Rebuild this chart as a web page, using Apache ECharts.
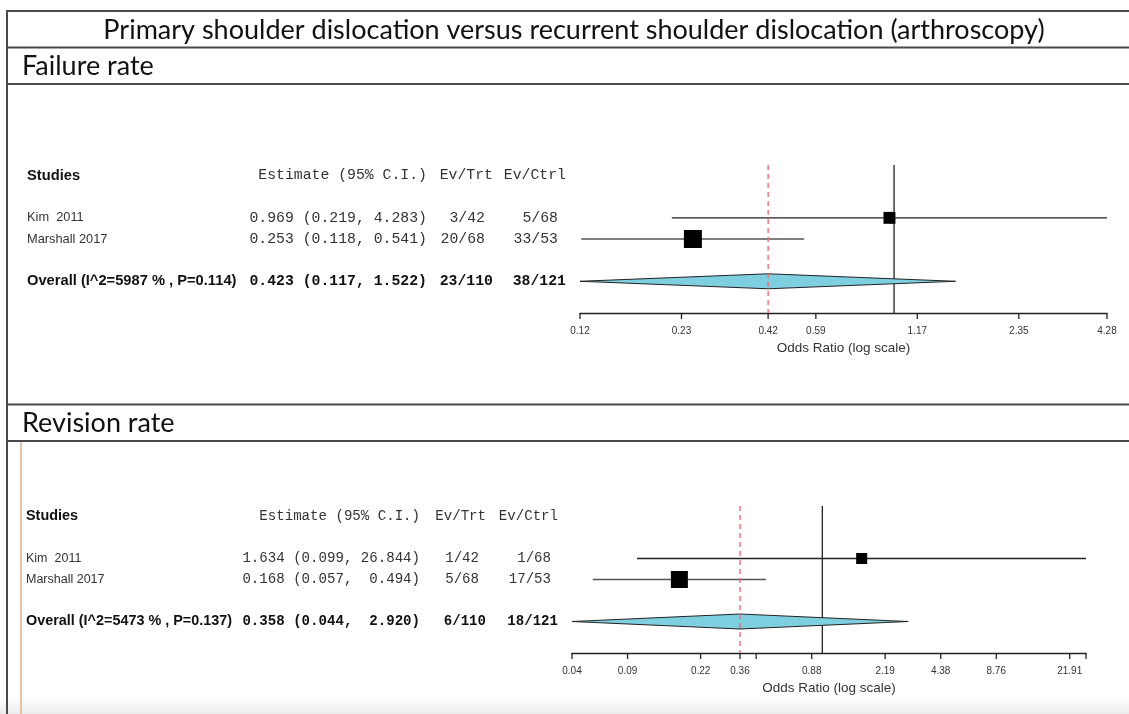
<!DOCTYPE html>
<html><head><meta charset="utf-8">
<script src="https://cdn.jsdelivr.net/npm/echarts@6/dist/echarts.min.js"></script>
<style>html,body{margin:0;padding:0;background:#fff}#c{width:1129px;height:714px}</style>
</head><body><div id="c"></div>
<script>
// ---------- data ----------
const mainTitle = 'Primary shoulder dislocation versus recurrent shoulder dislocation (arthroscopy)';
const panelTitles = ['Failure rate', 'Revision rate'];
const studies = ['Kim  2011', 'Marshall 2017'];
const colHeaders = ['Studies', 'Estimate (95% C.I.)', 'Ev/Trt', 'Ev/Ctrl'];
const axisName = 'Odds Ratio (log scale)';

// Failure rate
const failEst = [0.969, 0.253];
const failLo = [0.219, 0.118];
const failHi = [4.283, 0.541];
const failWeight = [0.44, 1.0];
const failEvTrt = ['3/42', '20/68'];
const failEvCtrl = ['5/68', '33/53'];
const failEstText = ['0.969 (0.219, 4.283)', '0.253 (0.118, 0.541)'];
const failOverall = [0.423, 0.117, 1.522];
const failOverallLabel = 'Overall (I^2=5987 % , P=0.114)';
const failOverallText = ['0.423 (0.117, 1.522)', '23/110', '38/121'];
const failTicks = [0.117, 0.234, 0.423, 0.586, 1.172, 2.345, 4.283];
const failTickLabels = ['0.12', '0.23', '0.42', '0.59', '1.17', '2.35', '4.28'];

// Revision rate
const revEst = [1.634, 0.168];
const revLo = [0.099, 0.057];
const revHi = [26.844, 0.494];
const revWeight = [0.42, 1.0];
const revEvTrt = ['1/42', '5/68'];
const revEvCtrl = ['1/68', '17/53'];
const revEstText = ['1.634 (0.099, 26.844)', '0.168 (0.057,  0.494)'];
const revOverall = [0.358, 0.044, 2.920];
const revOverallLabel = 'Overall (I^2=5473 % , P=0.137)';
const revOverallText = ['0.358 (0.044,  2.920)', '6/110', '18/121'];
const revTicks = [0.044, 0.088, 0.219, 0.358, 0.438, 0.876, 2.19, 4.38, 8.76, 21.91, 26.844];
const revTickLabels = ['0.04', '0.09', '0.22', '0.36', '', '0.88', '2.19', '4.38', '8.76', '21.91', ''];

// ---------- layout ----------
const SANS = '"Liberation Sans", Arial, sans-serif';
const MONO = '"Liberation Mono", "Courier New", monospace';
const TITLEF = 'Lato, "Open Sans", sans-serif';
const ROW_HEADER = 0, ROW_STUDY0 = 2, ROW_OVERALL = 5;

const panels = [
  { est: failEst, lo: failLo, hi: failHi, w: failWeight, trt: failEvTrt, ctrl: failEvCtrl, estText: failEstText,
    ov: failOverall, ovLabel: failOverallLabel, ovText: failOverallText, ticks: failTicks, tickLabels: failTickLabels,
    grid: { left: 580, top: 165, width: 527, height: 148 }, maxSq: 18,
    font: { sans: 12.8, sansB: 14.7, mono: 14.8 },
    col: { name: 27, estRight: 427, trtRight: 493, ctrlRight: 566, shift: 8 } },
  { est: revEst, lo: revLo, hi: revHi, w: revWeight, trt: revEvTrt, ctrl: revEvCtrl, estText: revEstText,
    ov: revOverall, ovLabel: revOverallLabel, ovText: revOverallText, ticks: revTicks, tickLabels: revTickLabels,
    grid: { left: 572, top: 506, width: 514, height: 147 }, maxSq: 17,
    font: { sans: 12.5, sansB: 14.4, mono: 14.1 },
    col: { name: 26, estRight: 420, trtRight: 486, ctrlRight: 558, shift: 7 } }
];

const chart = echarts.init(document.getElementById('c'), null, { renderer: 'canvas' });

const grids = [], xAxes = [], yAxes = [], series = [];
panels.forEach((p, pi) => {
  const xmin = Math.min(...p.ticks), xmax = Math.max(...p.ticks);
  grids.push(Object.assign({ containLabel: false }, p.grid));
  xAxes.push({
    type: 'log', logBase: 10, gridIndex: pi, min: xmin, max: xmax,
    axisLine: { show: true, onZero: false, lineStyle: { color: '#222', width: 1.4 } },
    axisTick: { show: false }, axisLabel: { show: false }, splitLine: { show: false },
    name: axisName, nameLocation: 'middle', nameGap: 28,
    nameTextStyle: { fontFamily: SANS, fontSize: 13.5, color: '#333' }
  });
  yAxes.push({ type: 'value', gridIndex: pi, min: -0.5, max: 6.5, inverse: true, show: false });

  // vertical line of no effect (OR = 1)
  series.push({
    type: 'custom', xAxisIndex: pi, yAxisIndex: pi, silent: true, clip: false, z: 2,
    data: [[1, -0.5]],
    renderItem: (params, api) => {
      const a = api.coord([api.value(0), -0.5]), b = api.coord([api.value(0), 6.5]);
      return { type: 'line', shape: { x1: a[0], y1: a[1], x2: b[0], y2: b[1] }, style: { stroke: '#222', lineWidth: 1.3 } };
    }
  });
  // dashed line at overall estimate
  series.push({
    type: 'custom', xAxisIndex: pi, yAxisIndex: pi, silent: true, clip: false, z: 4,
    data: [[p.ov[0], -0.5]],
    renderItem: (params, api) => {
      const a = api.coord([api.value(0), -0.5]), b = api.coord([api.value(0), 6.5]);
      return { type: 'line', shape: { x1: a[0], y1: a[1], x2: b[0], y2: b[1] }, style: { stroke: '#f0626a', lineWidth: 1.3, lineDash: [5, 4] } };
    }
  });
  // study CIs and squares
  series.push({
    type: 'custom', xAxisIndex: pi, yAxisIndex: pi, silent: true, clip: false, z: 3,
    encode: { x: [0, 1, 2], y: 3 },
    data: p.est.map((e, i) => [p.lo[i], p.hi[i], e, ROW_STUDY0 + i, p.w[i]]),
    renderItem: (params, api) => {
      const y = api.value(3);
      const lo = api.coord([api.value(0), y]), hi = api.coord([api.value(1), y]), c = api.coord([api.value(2), y]);
      const s = p.maxSq * Math.sqrt(api.value(4));
      return { type: 'group', children: [
        { type: 'line', shape: { x1: lo[0], y1: lo[1], x2: hi[0], y2: hi[1] }, style: { stroke: params.dataIndex === 0 ? '#222' : '#555', lineWidth: 1.3 } },
        { type: 'rect', shape: { x: c[0] - s / 2, y: c[1] - s / 2, width: s, height: s }, style: { fill: '#000' } }
      ] };
    }
  });
  // overall diamond
  series.push({
    type: 'custom', xAxisIndex: pi, yAxisIndex: pi, silent: true, clip: false, z: 3,
    encode: { x: [0, 1, 2], y: 3 },
    data: [[p.ov[1], p.ov[0], p.ov[2], ROW_OVERALL]],
    renderItem: (params, api) => {
      const y = api.value(3);
      const lo = api.coord([api.value(0), y]), c = api.coord([api.value(1), y]), hi = api.coord([api.value(2), y]);
      const h = 7.5;
      return { type: 'polygon', shape: { points: [[lo[0], lo[1]], [c[0], c[1] - h], [hi[0], hi[1]], [c[0], c[1] + h]] },
        style: { fill: '#7ecfe0', stroke: '#222', lineWidth: 1 } };
    }
  });
  // custom axis ticks + labels
  series.push({
    type: 'custom', xAxisIndex: pi, yAxisIndex: pi, silent: true, clip: false, z: 5,
    data: p.ticks.map(t => [t, 6.5]),
    renderItem: (params, api) => {
      const a = api.coord([api.value(0), 6.5]);
      const lab = p.tickLabels[params.dataIndex];
      return { type: 'group', children: [
        { type: 'line', shape: { x1: a[0], y1: a[1], x2: a[0], y2: a[1] + 6 }, style: { stroke: '#222', lineWidth: 1.3 } },
        { type: 'text', style: { text: lab, x: a[0], y: a[1] + 18, align: 'center', verticalAlign: 'middle', font: '10px ' + SANS, fill: '#333' } }
      ] };
    }
  });
  // left-hand text table, rows aligned with the y scale
  const rows = [ROW_HEADER, ROW_STUDY0, ROW_STUDY0 + 1, ROW_OVERALL];
  series.push({
    type: 'custom', xAxisIndex: pi, yAxisIndex: pi, silent: true, clip: false, z: 5,
    data: rows.map(r => [xmin, r]),
    renderItem: (params, api) => {
      const y = api.coord([xmin, api.value(1)])[1];
      const k = params.dataIndex, c = p.col, f = p.font;
      let cells;
      const sansB = 'bold ' + f.sansB + 'px ' + SANS, sansN = f.sans + 'px ' + SANS;
      const monoN = f.mono + 'px ' + MONO, monoB = 'bold ' + f.mono + 'px ' + MONO;
      if (k === 0) {
        cells = [
          [colHeaders[0], c.name, 'left', sansB, '#111'],
          [colHeaders[1], c.estRight, 'right', monoN, '#333'],
          [colHeaders[2], c.trtRight, 'right', monoN, '#333'],
          [colHeaders[3], c.ctrlRight, 'right', monoN, '#333']
        ];
      } else if (k === 3) {
        cells = [
          [p.ovLabel, c.name, 'left', sansB, '#111'],
          [p.ovText[0], c.estRight, 'right', monoB, '#111'],
          [p.ovText[1], c.trtRight, 'right', monoB, '#111'],
          [p.ovText[2], c.ctrlRight, 'right', monoB, '#111']
        ];
      } else {
        const i = k - 1;
        cells = [
          [studies[i], c.name, 'left', sansN, '#333'],
          [p.estText[i], c.estRight, 'right', monoN, '#333'],
          [p.trt[i], c.trtRight - c.shift, 'right', monoN, '#333'],
          [p.ctrl[i], c.ctrlRight - c.shift, 'right', monoN, '#333']
        ];
      }
      return { type: 'group', children: cells.map(t => ({
        type: 'text', style: { text: t[0], x: t[1], y: y, align: t[2], verticalAlign: 'middle', font: t[3], fill: t[4] }
      })) };
    }
  });
});

// ---------- table frame & headings ----------
const LC = '#4a4a4a';
const hl = (y) => ({ type: 'line', shape: { x1: 6, y1: y, x2: 1129, y2: y }, style: { stroke: LC, lineWidth: 2 }, silent: true });
const graphic = [
  { type: 'rect', shape: { x: 0, y: 696, width: 1129, height: 18 }, style: { fill: new echarts.graphic.LinearGradient(0, 0, 0, 1, [{ offset: 0, color: 'rgba(240,240,240,0)' }, { offset: 1, color: 'rgba(236,236,236,1)' }]) }, silent: true, z: -1 },
  hl(11), hl(47.5), hl(84), hl(404.5), hl(441),
  { type: 'line', shape: { x1: 7, y1: 10, x2: 7, y2: 714 }, style: { stroke: LC, lineWidth: 2 }, silent: true },
  { type: 'line', shape: { x1: 21, y1: 442, x2: 21, y2: 714 }, style: { stroke: '#e6c2a6', lineWidth: 2 }, silent: true },
  { type: 'text', style: { text: mainTitle, x: 574, y: 30, align: 'center', verticalAlign: 'middle', font: '27px ' + TITLEF, fill: '#111' }, silent: true },
  { type: 'text', style: { text: panelTitles[0], x: 22, y: 66, align: 'left', verticalAlign: 'middle', font: '27px ' + TITLEF, fill: '#111' }, silent: true },
  { type: 'text', style: { text: panelTitles[1], x: 22, y: 423, align: 'left', verticalAlign: 'middle', font: '27px ' + TITLEF, fill: '#111' }, silent: true }
];

chart.setOption({
  animation: false,
  backgroundColor: '#fff',
  grid: grids, xAxis: xAxes, yAxis: yAxes, series: series,
  graphic: graphic
});
</script>
</body></html>
